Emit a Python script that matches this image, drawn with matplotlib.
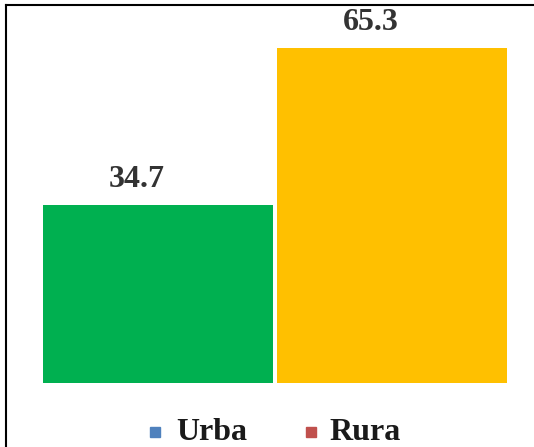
import matplotlib.pyplot as plt
from matplotlib.lines import Line2D
from matplotlib.patches import Rectangle

categories = ['Urban', 'Rural']
values = [34.7, 65.3]
bar_colors = ['#00b050', '#ffc000']
legend_labels = ['Urba', 'Rura']
legend_colors = ['#4f81bd', '#c0504d']

W, H = 534, 447
fig = plt.figure(figsize=(W / 100, H / 100), dpi=100)

# axes spans the bar area in pixels
ax = fig.add_axes([43 / W, (H - 383) / H, 464 / W, 378 / H])
x = range(len(values))
ax.bar(x, values, width=0.983, color=bar_colors)
ax.set_xlim(-0.4915, 1.4915)
ax.set_ylim(0, 378 / 5.13)
ax.axis('off')

for xi, v in zip(x, values):
    ax.text(xi - 0.09, v + 4.9, f'{v}', ha='center', va='center',
            fontsize=23, fontweight='bold', family='Liberation Serif', color='#333333')

# outer frame (top and left edges visible)
fig.add_artist(Line2D([6 / W, 1], [1 - 5 / H, 1 - 5 / H], color='black', lw=1.5))
fig.add_artist(Line2D([6 / W, 6 / W], [0, 1 - 5 / H], color='black', lw=1.5))

# legend drawn by hand
for lbl, col, sx, tx in zip(legend_labels, legend_colors, [150, 306], [176, 329]):
    fig.add_artist(Rectangle((sx / W, 1 - 437 / H), 10 / W, 10 / H,
                             transform=fig.transFigure, color=col))
    fig.text(tx / W, 1 - 432 / H, lbl, ha='left', va='center', fontsize=23,
             fontweight='bold', family='Liberation Serif', color='#1a1a1a')

fig.savefig('out.png', dpi=100)
